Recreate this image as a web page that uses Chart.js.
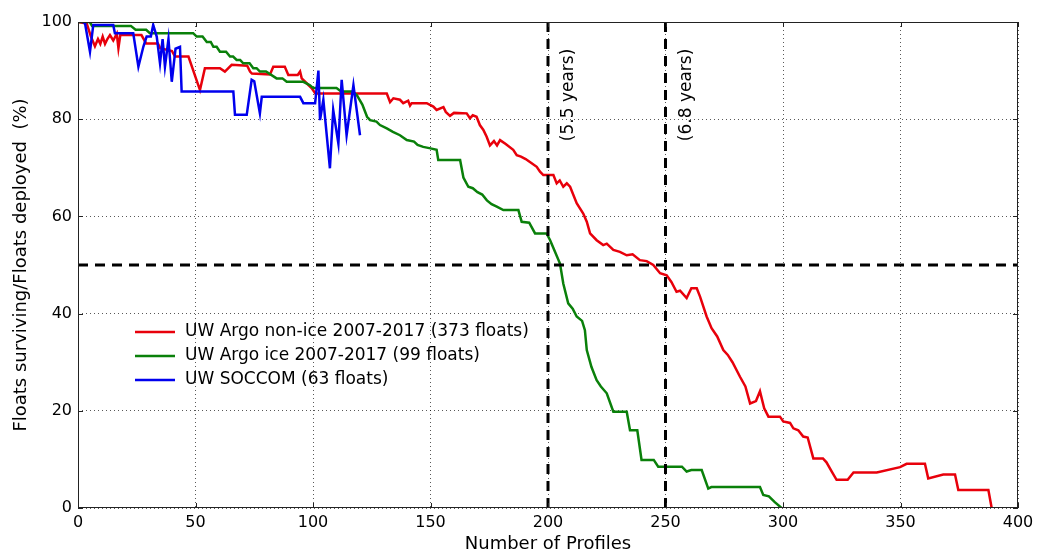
<!DOCTYPE html>
<html>
<head>
<meta charset="utf-8">
<script src="https://cdn.jsdelivr.net/npm/chart.js@4"></script>
<style>
  html, body { margin: 0; padding: 0; background: #fff; }
</style>
</head>
<body>
<canvas id="myChart" width="1047" height="556"></canvas>
<script>
// Float survival vs. number of profiles
const nonIceProfiles = [0, 3.7, 5.5, 7.2, 8.5, 9.5, 10.5, 11.5, 12.5, 13.6, 15, 16.5, 17.2, 18, 27, 29, 34, 35, 40, 41.3, 47, 51.9, 54, 60.4, 62.5, 65.4, 72, 73.2, 74, 81.7, 83.1, 88, 89.5, 93.5, 94.5, 95.2, 97.3, 99.4, 101, 131.4, 132.8, 134.2, 137, 138.4, 140.5, 141.3, 142, 148.4, 151.2, 152.6, 155.5, 156.5, 158.3, 160, 165.4, 166.8, 168, 169.6, 171, 172.5, 173.9, 175.3, 177, 178.3, 179.6, 182, 185.2, 186.7, 188.5, 190.5, 192.3, 195.2, 196.6, 198, 202.3, 203.7, 205, 206.5, 208, 209.4, 212.2, 215, 216.5, 217.9, 220.7, 223.5, 225, 227.8, 230.6, 233.5, 236, 239.1, 242, 244.8, 247.7, 250.5, 252.5, 254.7, 256.2, 259, 261, 263.3, 264.7, 267.5, 269.6, 272, 274.6, 276.5, 278.5, 281.7, 284, 286, 288.5, 290.2, 292, 293.8, 298.7, 300.1, 303, 304.4, 306.5, 308.6, 310.5, 312.9, 317, 318.5, 321, 322.8, 327.5, 330, 339.9, 349.8, 352.6, 360.4, 361.8, 368.2, 373.2, 374.6, 387.4, 388.8];
const nonIcePct = [100, 99.7, 97, 95, 96.5, 95.5, 97, 95.5, 96.5, 97.3, 96.2, 97.6, 94.6, 97.3, 97.3, 95.6, 95.6, 94.6, 94, 92.9, 92.9, 86, 90.5, 90.5, 89.8, 91.2, 91, 89.8, 89.4, 89.2, 90.8, 90.8, 89.1, 89.1, 89.8, 88.4, 87.4, 86.4, 85.3, 85.3, 83.5, 84.3, 84, 83.3, 83.8, 82.8, 83.3, 83.3, 82.6, 81.9, 82.5, 81.5, 80.7, 81.3, 81.2, 80.2, 80.8, 80.5, 78.8, 77.8, 76.4, 74.6, 75.5, 74.6, 75.7, 74.9, 73.7, 72.6, 72.3, 71.8, 71.2, 70.2, 69.2, 68.5, 68.5, 66.8, 67.4, 66.1, 66.8, 66.1, 62.7, 60.6, 58.9, 56.5, 55.1, 54.1, 54.4, 53.1, 52.7, 52, 52.2, 51, 50.8, 50, 48.3, 47.9, 46.5, 44.5, 44.7, 43.2, 45.2, 45.2, 43.5, 39.4, 37, 35.3, 32.5, 31.5, 30, 27, 25, 21.5, 22, 24, 20.5, 18.8, 18.8, 17.8, 17.5, 16.4, 16, 14.7, 14.5, 10.2, 10.2, 9.4, 7.3, 5.8, 5.8, 7.3, 7.3, 8.4, 9.1, 9.1, 6.1, 6.9, 6.9, 3.7, 3.7, 0];

const iceProfiles = [0, 5, 6, 22.5, 24.5, 29, 30.6, 49, 50.5, 53, 54.8, 56.5, 57.6, 59, 60.4, 63, 64.7, 66, 67.5, 69, 70.3, 73, 74.6, 76, 77.4, 80, 84.5, 87, 88.8, 95.9, 98.7, 100.1, 110, 112, 116.5, 118.6, 121, 123, 124.3, 127, 128.5, 131.4, 134, 137, 139.9, 143, 144.5, 146.9, 150, 152.6, 153.3, 162.6, 164, 166.1, 168, 170, 172, 174, 176, 178.2, 181, 187.4, 188.8, 192, 194.5, 199.4, 200.9, 202.3, 205.1, 206.5, 208.6, 210.5, 212.2, 214.5, 215.7, 216.5, 218.5, 220.7, 222.5, 225, 227.8, 233.5, 234.9, 238, 239.8, 245, 246.9, 257, 259, 261, 265.4, 268.2, 269.5, 290.2, 291.6, 294, 296.5, 299.4];
const icePct = [100, 100, 99.2, 99.2, 98.4, 98.4, 97.7, 97.7, 97, 97, 95.9, 95.9, 94.9, 94.9, 93.9, 93.9, 92.9, 92.9, 92.2, 92.2, 91.5, 91.5, 90.5, 90.5, 89.8, 89.8, 88.4, 88.4, 87.7, 87.7, 87, 86.4, 86.4, 85.7, 85.7, 85, 83, 80.5, 79.8, 79.5, 78.8, 78.1, 77.4, 76.7, 75.7, 75.4, 74.7, 74.3, 74, 73.7, 71.6, 71.6, 68, 66.1, 65.8, 65, 64.5, 63.3, 62.5, 62, 61.3, 61.3, 58.9, 58.7, 56.5, 56.5, 55.1, 53.5, 50.3, 46.2, 42.1, 41, 39.4, 38.5, 36.6, 32.5, 29, 26.3, 25, 23.6, 19.8, 19.8, 16, 16, 9.9, 9.9, 8.5, 8.5, 7.5, 7.8, 7.8, 4, 4.3, 4.3, 2.7, 2.4, 1.2, 0];

const soccomProfiles = [2, 3, 5.1, 6.5, 15, 15.7, 23.5, 25.7, 27.8, 29.2, 31, 32, 33.5, 34.9, 36, 37, 38.5, 39.9, 41.5, 43.4, 44.1, 66.1, 66.8, 71.8, 73.9, 75, 77.4, 78.2, 94.5, 95.9, 100.9, 102.3, 103, 104.4, 107.2, 108.6, 110.8, 112.2, 114.3, 117.2, 120];
const soccomPct = [100, 99.7, 93.9, 99.4, 99.4, 97.7, 97.7, 90.8, 94.9, 97, 97, 99.4, 97, 91.5, 96.5, 90.8, 96.5, 87.7, 94.5, 94.9, 85.7, 85.7, 80.9, 80.9, 88.1, 87.8, 81.2, 84.6, 84.6, 83.3, 83.3, 90, 79.8, 84, 69.9, 81.9, 75, 88.1, 76.7, 87, 76.7];

const seriesLabels = ['UW Argo non-ice 2007-2017 (373 floats)', 'UW Argo ice 2007-2017 (99 floats)', 'UW SOCCOM (63 floats)'];
const yearMarks = [200, 250];
const yearLabels = ['(5.5 years)', '(6.8 years)'];
const halfLevel = 50;
const xTicks = [0, 50, 100, 150, 200, 250, 300, 350, 400];
const yTicks = [0, 20, 40, 60, 80, 100];

const FONT = '"DejaVu Sans", sans-serif';

function pairs(xs, ys) {
    return xs.map((x, i) => ({x: x, y: ys[i]}));
}

function dashed(points) {
    return {
        label: '', data: points, borderColor: '#000', borderWidth: 3,
        borderDash: [10, 7], pointRadius: 0, order: 0, isRef: true
    };
}

// frame, inward ticks, rotated year labels and legend box
const decorations = {
    id: 'decorations',
    afterDatasetsDraw(chart) {
        const {ctx, chartArea: a, scales: {x, y}} = chart;
        ctx.save();
        ctx.strokeStyle = '#222';
        ctx.lineWidth = 1;
        ctx.strokeRect(a.left + 0.5, a.top + 0.5, a.width - 1, a.height - 1);

        ctx.beginPath();
        xTicks.forEach(v => {
            const px = Math.round(x.getPixelForValue(v)) + 0.5;
            ctx.moveTo(px, a.bottom); ctx.lineTo(px, a.bottom - 5);
            ctx.moveTo(px, a.top); ctx.lineTo(px, a.top + 5);
        });
        yTicks.forEach(v => {
            const py = Math.round(y.getPixelForValue(v)) + 0.5;
            ctx.moveTo(a.left, py); ctx.lineTo(a.left + 5, py);
            ctx.moveTo(a.right, py); ctx.lineTo(a.right - 5, py);
        });
        ctx.stroke();

        ctx.fillStyle = '#000';
        ctx.font = '17px ' + FONT;
        ctx.textAlign = 'center';
        ctx.textBaseline = 'middle';
        yearMarks.forEach((m, i) => {
            ctx.save();
            ctx.translate(x.getPixelForValue(m) + 21, y.getPixelForValue(85));
            ctx.rotate(-Math.PI / 2);
            ctx.fillText(yearLabels[i], 0, 0);
            ctx.restore();
        });

        // legend
        const lx = a.left + 57, ly = a.top + 310;
        ctx.textAlign = 'left';
        chart.data.datasets.filter(d => !d.isRef).forEach((d, i) => {
            const yy = ly + i * 24;
            ctx.strokeStyle = d.borderColor;
            ctx.lineWidth = 2.5;
            ctx.beginPath();
            ctx.moveTo(lx, yy); ctx.lineTo(lx + 40, yy);
            ctx.stroke();
            ctx.fillText(d.label, lx + 50, yy);
        });
        ctx.restore();
    }
};

const ctx = document.getElementById('myChart').getContext('2d');
new Chart(ctx, {
    type: 'line',
    data: {
        datasets: [
            {label: seriesLabels[0], data: pairs(nonIceProfiles, nonIcePct), borderColor: '#e8000b', borderWidth: 2.5, pointRadius: 0, order: 3},
            {label: seriesLabels[1], data: pairs(iceProfiles, icePct), borderColor: '#0a800a', borderWidth: 2.5, pointRadius: 0, order: 2},
            {label: seriesLabels[2], data: pairs(soccomProfiles, soccomPct), borderColor: '#0000ee', borderWidth: 2.5, pointRadius: 0, order: 1},
            dashed(yearMarks.slice(0, 1).flatMap(m => [{x: m, y: 0}, {x: m, y: 100}])),
            dashed(yearMarks.slice(1).flatMap(m => [{x: m, y: 0}, {x: m, y: 100}])),
            dashed([{x: 0, y: halfLevel}, {x: 400, y: halfLevel}])
        ]
    },
    options: {
        responsive: false,
        animation: false,
        events: [],
        layout: {padding: {top: 22, right: 29, left: 0, bottom: 0}},
        plugins: {legend: {display: false}, tooltip: {enabled: false}},
        scales: {
            x: {
                type: 'linear', min: 0, max: 400,
                afterBuildTicks: s => { s.ticks = xTicks.map(v => ({value: v})); },
                afterFit: s => { s.height = 48; },
                ticks: {color: '#000', font: {family: FONT, size: 16}, padding: 5, maxRotation: 0},
                grid: {color: 'rgba(0,0,0,0.65)', lineWidth: 1, drawTicks: false},
                border: {display: false, dash: [1, 3]},
                title: {display: true, text: 'Number of Profiles', color: '#000', font: {family: FONT, size: 18}, padding: {top: 0, bottom: 1}}
            },
            y: {
                min: 0, max: 100,
                afterBuildTicks: s => { s.ticks = yTicks.map(v => ({value: v})); },
                afterFit: s => { s.width = 78; },
                ticks: {color: '#000', font: {family: FONT, size: 16}, padding: 6},
                grid: {color: 'rgba(0,0,0,0.65)', lineWidth: 1, drawTicks: false},
                border: {display: false, dash: [1, 3]},
                title: {display: true, text: 'Floats surviving/Floats deployed  (%)', color: '#000', font: {family: FONT, size: 18}, padding: {top: 11, bottom: 0}}
            }
        }
    },
    plugins: [decorations]
});
</script>
</body>
</html>
